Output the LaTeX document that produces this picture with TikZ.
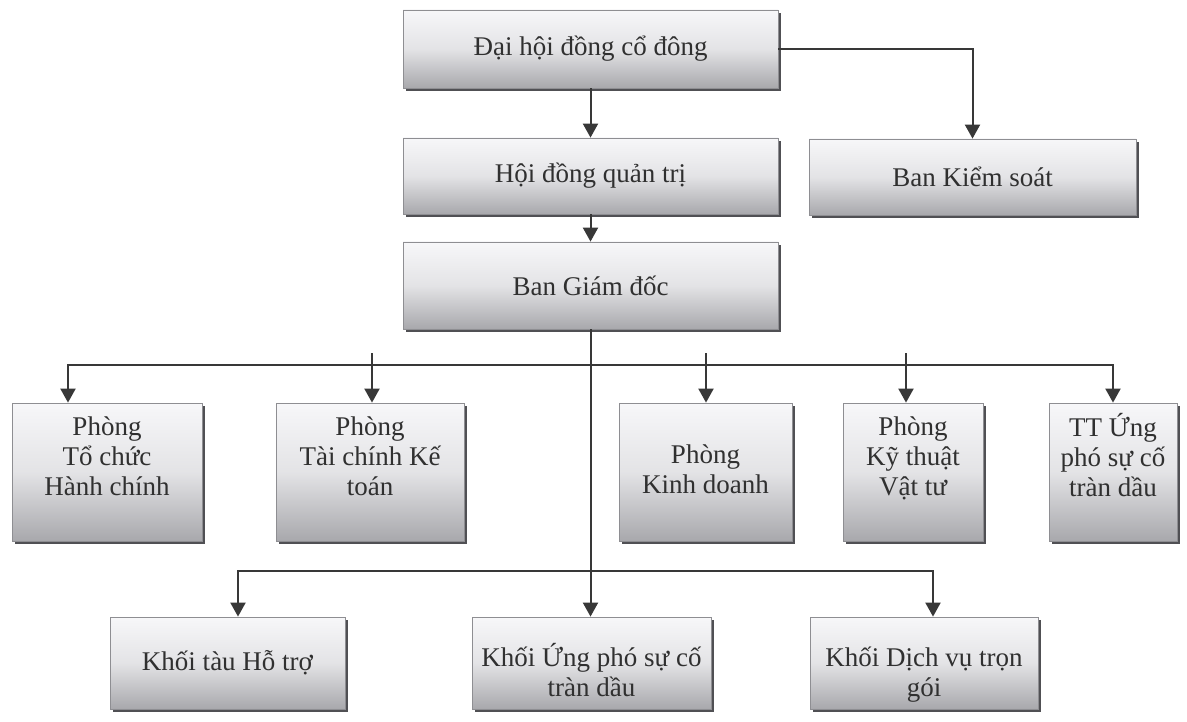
\documentclass[tikz,border=0pt]{standalone}
\usepackage{fontspec}
\setmainfont{Liberation Serif}
\usetikzlibrary{arrows.meta,shadows}
\definecolor{txt}{HTML}{303030}
\definecolor{lnc}{HTML}{383838}
\definecolor{boxtop}{HTML}{F7F7F9}
\definecolor{boxbot}{HTML}{A8A8AC}
\definecolor{bord}{HTML}{8E8E92}
\definecolor{shad}{HTML}{505054}
\newcommand\mlines[2][0pt]{\begin{tabular}{@{}c@{}}#2\\[#1]\end{tabular}}
\newcommand\mlinesdn[2]{\begin{tabular}{@{}c@{}}\rule{0pt}{#1}#2\end{tabular}}
\begin{document}
\begin{tikzpicture}[x=1pt,y=-1pt,
  orgbox/.style={draw=bord, line width=0.8pt, top color=boxtop, bottom color=boxbot,
    middle color=boxtop!75!boxbot, align=center, text=txt, inner sep=2pt,
    font=\fontsize{27}{30}\selectfont,
    drop shadow={shadow xshift=3pt, shadow yshift=-3pt, fill=shad, opacity=1}},
  arr/.style={draw=lnc, line width=2pt, -{Triangle[width=15pt,length=14pt]}},
  ln/.style={draw=lnc, line width=2pt}]
\useasboundingbox (0,0) rectangle (1187,722);
\fill[white] (0,0) rectangle (1187,722);

\node[orgbox, minimum width=375pt, minimum height=78pt] (dh) at (590.5,49) {Đại hội đồng cổ đông};
\node[orgbox, minimum width=375pt, minimum height=76pt] (hd) at (590.5,176) {Hội đồng quản trị};
\node[orgbox, minimum width=327pt, minimum height=76pt] (bks) at (972.5,177) {Ban Kiểm soát};
\node[orgbox, minimum width=375pt, minimum height=87pt] (bgd) at (590.5,285.5) {Ban Giám đốc};

\node[orgbox, minimum width=190pt, minimum height=138pt] (p1) at (107,472) {\mlines[26pt]{Phòng\\Tổ chức\\Hành chính}};
\node[orgbox, minimum width=188pt, minimum height=138pt] (p2) at (370,472) {\mlines[26pt]{Phòng\\Tài chính Kế\\toán}};
\node[orgbox, minimum width=173pt, minimum height=138pt] (p3) at (705.5,472) {\mlines{Phòng\\Kinh doanh}};
\node[orgbox, minimum width=140pt, minimum height=138pt] (p4) at (913,472) {\mlines[26pt]{Phòng\\Kỹ thuật\\Vật tư}};
\node[orgbox, minimum width=128pt, minimum height=138pt] (p5) at (1113,472) {\mlines[26pt]{TT Ứng\\phó sự cố\\tràn dầu}};

\node[orgbox, minimum width=235pt, minimum height=92pt] (k1) at (227.5,663) {Khối tàu Hỗ trợ};
\node[orgbox, minimum width=239pt, minimum height=92pt] (k2) at (591.5,663) {\mlinesdn{45pt}{Khối Ứng phó sự cố\\tràn dầu}};
\node[orgbox, minimum width=228pt, minimum height=92pt] (k3) at (924,663) {\mlinesdn{45pt}{Khối Dịch vụ trọn\\gói}};

% connectors
\draw[arr] (dh.south) -- (hd.north);
\draw[arr] (dh.east) -| (bks.north);
\draw[arr] (hd.south) -- (bgd.north);

\coordinate (b1) at (590.5,365);
\coordinate (s2) at (372,353);
\coordinate (s3) at (706,353);
\coordinate (s4) at (906,353);
\draw[arr] (b1) -| ([xshift=-39pt]p1.north);
\draw[arr] (b1) -| (p5.north);
\draw[arr] (s2) -- (s2 |- p2.north);
\draw[arr] (s3) -- (s3 |- p3.north);
\draw[arr] (s4) -- (s4 |- p4.north);

\coordinate (b2) at (590.5,571);
\draw[arr] (b2) -| ([xshift=10.5pt]k1.north);
\draw[arr] (b2) -| ([xshift=9pt]k3.north);
\draw[arr] (bgd.south) -- (bgd.south |- k2.north);
\end{tikzpicture}
\end{document}
